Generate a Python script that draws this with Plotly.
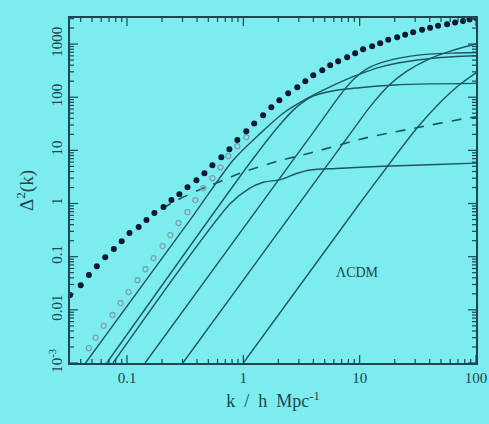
import math
import plotly.graph_objects as go

# ---- data (k in h/Mpc, Delta^2) ----
dots_k = [0.0324, 0.040, 0.047, 0.055, 0.065, 0.077, 0.090, 0.105, 0.126, 0.147,
          0.172, 0.206, 0.241, 0.282, 0.331, 0.395, 0.463, 0.542, 0.647, 0.759,
          0.888, 1.06, 1.24, 1.48, 1.74, 2.04, 2.43, 2.91, 3.41, 3.99,
          4.77, 5.58, 6.54, 7.81, 9.15, 10.7, 12.8, 15.0, 17.6, 21.0,
          24.6, 28.8, 34.4, 40.3, 47.2, 56.4, 66.1, 77.3, 88.0, 100.0]
dots_v = [0.019, 0.029, 0.045, 0.066, 0.098, 0.139, 0.196, 0.278, 0.36, 0.49,
          0.66, 0.86, 1.16, 1.50, 2.03, 2.75, 3.73, 5.27, 7.45, 10.5,
          15.6, 23, 32, 46, 65, 88, 119, 154, 200, 259,
          322, 400, 475, 565, 671, 798, 909, 1035, 1200, 1343,
          1500, 1667, 1850, 2030, 2200, 2370, 2540, 2720, 2900, 3080]

circ_k = [0.047, 0.0537, 0.0629, 0.0751, 0.0880, 0.103, 0.123, 0.144, 0.169, 0.202,
          0.236, 0.277, 0.331, 0.387, 0.454, 0.542, 0.635, 0.743, 0.888, 1.06]
circ_v = [0.0019, 0.0030, 0.0050, 0.0080, 0.0134, 0.0216, 0.036, 0.058, 0.094, 0.158,
          0.255, 0.43, 0.69, 1.16, 1.95, 3.0, 4.8, 7.8, 12, 17.7]

lin_k = [0.20, 0.251, 0.411, 0.61, 0.942, 2.0, 3.76, 11.1, 31.6, 80.5, 100]
lin_v = [0.79, 1.07, 1.78, 2.51, 3.72, 6.31, 8.91, 17.0, 26.9, 39.8, 42.7]

c1_k = [0.044, 0.372, 0.82, 1.40, 2.20, 3.54, 5.62, 9.12, 15.8, 31.6, 63.1, 100]
c1_v = [0.001, 0.60, 6.6, 20.9, 50, 95, 158, 251, 380, 501, 575, 603]

c2_k = [0.067, 1.19, 2.0, 2.82, 3.98, 6.31, 10, 20, 39.8, 100]
c2_v = [0.001, 6.6, 28.2, 63, 105, 135, 151, 170, 178, 182]

c3_k = [0.0759, 0.773, 1.12, 1.48, 2.09, 2.82, 3.76, 6.31, 15.8, 39.8, 100]
c3_v = [0.001, 1.0, 1.91, 2.51, 2.82, 3.63, 4.27, 4.57, 5.01, 5.37, 5.75]

c4_k = [0.143, 4.12, 7.08, 9.12, 11.7, 15.8, 25.1, 39.8, 63.1, 100]
c4_v = [0.001, 24, 123, 229, 347, 457, 575, 646, 676, 692]

c5_k = [0.302, 8.79, 12.6, 17.8, 25.1, 39.8, 63.1, 100]
c5_v = [0.001, 24.5, 70.8, 166, 302, 525, 759, 1000]

c6_k = [1.0, 10, 20, 31.6, 50.1, 70.8, 100]
c6_v = [0.001, 1.0, 7.59, 27.5, 83, 166, 288]

y_label_alias = {"0.001": "10<sup>-3</sup>", "1k": "1000", "1,000": "1000"}

BG = "#7BEDEF"
INK = "#1E4552"
LINE = "#1F5563"

XR = [-1.49, 2.0]
YR = [-3, 3.49]
W, H = 489, 424
ML, MR, MT, MB = 70, 13, 18, 61
PW, PH = W - ML - MR, H - MT - MB

fig = go.Figure()

for ks, vs in [(c1_k, c1_v), (c2_k, c2_v), (c3_k, c3_v), (c4_k, c4_v), (c5_k, c5_v), (c6_k, c6_v)]:
    fig.add_trace(go.Scatter(x=ks, y=vs, mode="lines",
                             line=dict(color=LINE, width=1.4, shape="spline", smoothing=0.8),
                             showlegend=False, hoverinfo="skip"))

fig.add_trace(go.Scatter(x=lin_k, y=lin_v, mode="lines",
                         line=dict(color=LINE, width=1.6, dash="10px,9px", shape="spline", smoothing=0.8),
                         showlegend=False, hoverinfo="skip"))

fig.add_trace(go.Scatter(x=circ_k, y=circ_v, mode="markers",
                         marker=dict(symbol="circle-open", size=5, color="#7E9FB0",
                                     line=dict(width=1.3, color="#7E9FB0")),
                         showlegend=False, hoverinfo="skip"))

fig.add_trace(go.Scatter(x=dots_k, y=dots_v, mode="markers",
                         marker=dict(symbol="circle", size=6, color="#0E1830"),
                         showlegend=False, hoverinfo="skip"))

fig.add_annotation(x=0.98, y=-1.29, xref="x", yref="y", text="ΛCDM", showarrow=False,
                   font=dict(family="Liberation Serif", size=14, color=INK))

# ---- tick marks on all four sides (short lines at the decade / sub-decade values) ----
def tick_values(lo, hi, e_from, e_to):
    out = []
    for e in range(e_from, e_to):
        for m in range(1, 10):
            v = m * 10.0 ** e
            lv = math.log10(v)
            if lo - 1e-9 <= lv <= hi + 1e-9:
                out.append((v, m == 1))
    return out

shapes = []
for v, major in tick_values(XR[0], XR[1], -2, 3):
    frac = (8 if major else 4) / PH
    for y0, y1 in [(0, frac), (1 - frac, 1)]:
        shapes.append(dict(type="line", xref="x", yref="y domain", x0=v, x1=v,
                           y0=y0, y1=y1, line=dict(color=INK, width=1.2)))
for v, major in tick_values(YR[0], YR[1], -3, 4):
    frac = (8 if major else 4) / PW
    for x0, x1 in [(0, frac), (1 - frac, 1)]:
        shapes.append(dict(type="line", xref="x domain", yref="y", x0=x0, x1=x1,
                           y0=v, y1=v, line=dict(color=INK, width=1.2)))

axis_common = dict(type="log", tickmode="linear", tick0=0, dtick=1,
                   exponentformat="none", separatethousands=False,
                   ticks="", showline=True, linecolor=INK, linewidth=1.5, mirror=True,
                   showgrid=False, zeroline=False, automargin=False,
                   tickfont=dict(family="Liberation Serif", size=15, color=INK))

fig.update_xaxes(range=XR,
                 title=dict(text="k\u2002/\u2002h\u2002Mpc<sup>-1</sup>", standoff=10,
                            font=dict(family="Liberation Serif", size=18, color=INK)),
                 **axis_common)
fig.update_yaxes(range=YR, tickangle=-90, labelalias=y_label_alias,
                 title=dict(text="Δ<sup>2</sup>(k)", standoff=8,
                            font=dict(family="Liberation Serif", size=19, color=INK)),
                 **axis_common)

fig.update_layout(width=W, height=H,
                  margin=dict(l=ML, r=MR, t=MT, b=MB),
                  paper_bgcolor=BG, plot_bgcolor=BG, showlegend=False,
                  shapes=shapes)

fig.write_html("out.html", config={"displayModeBar": False},
               post_script="document.body.style.margin='0';document.body.style.background='" + BG + "';")
